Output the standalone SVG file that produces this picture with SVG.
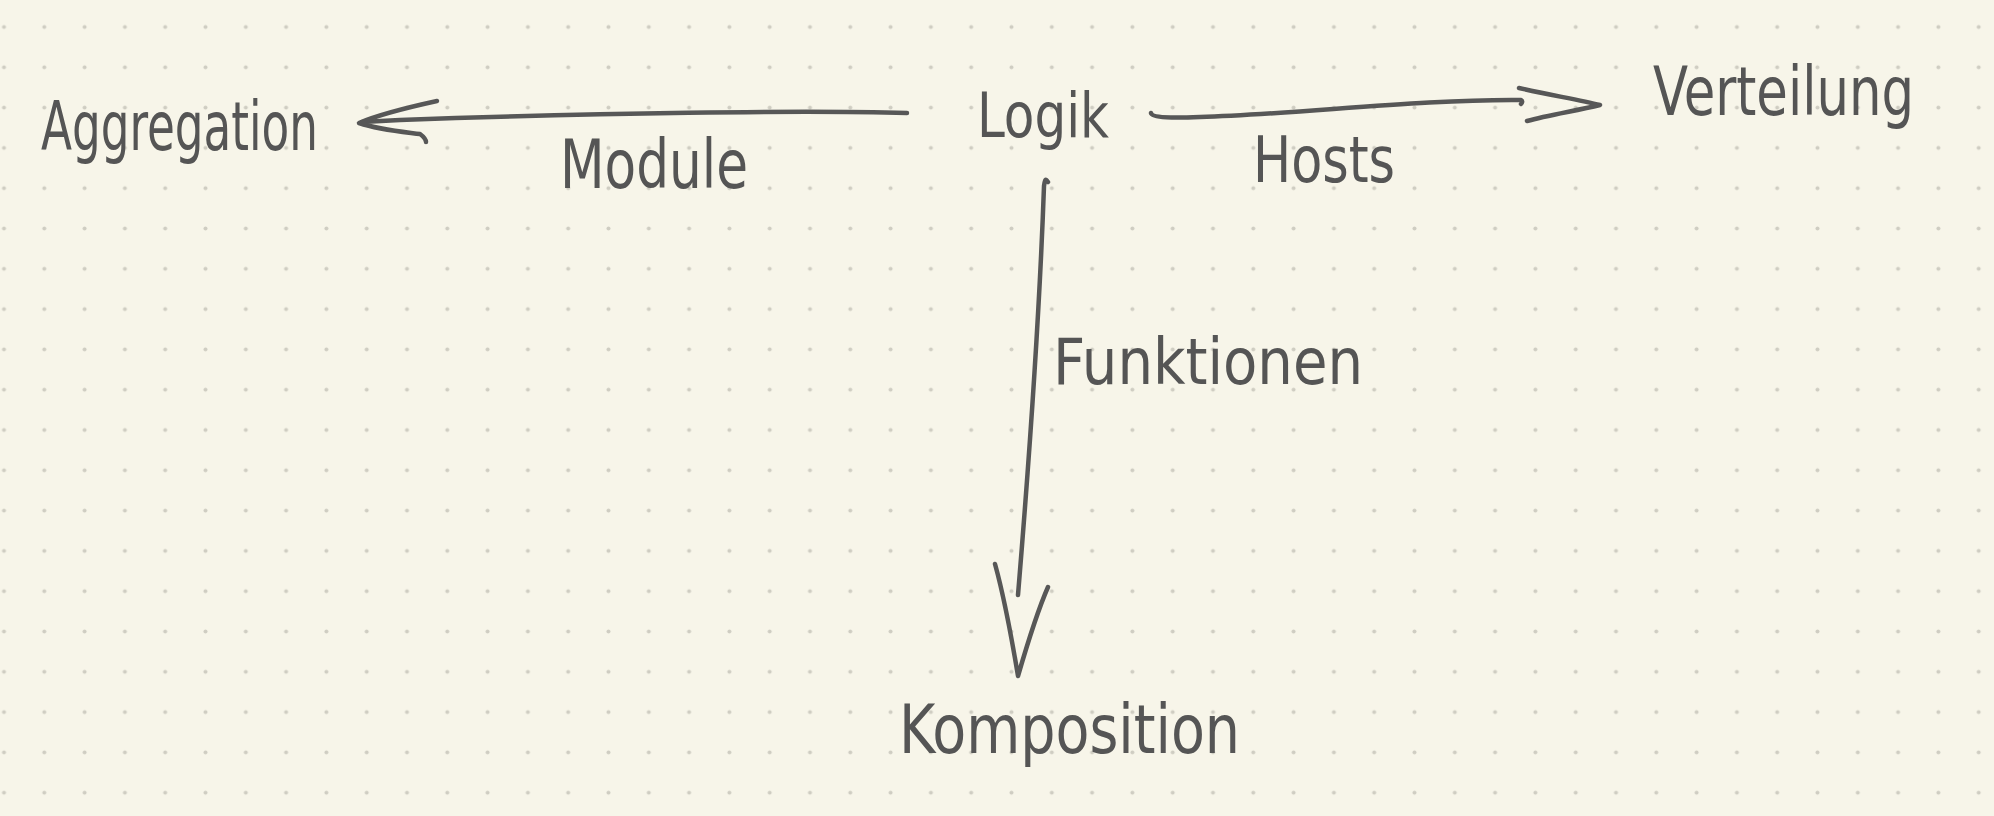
<svg xmlns="http://www.w3.org/2000/svg" width="1994" height="816" viewBox="0 0 1994 816">
  <style>
    .lbl { font-family: "DejaVu Sans Condensed", "Liberation Sans", sans-serif; font-size: 68px; fill: #555555; }
    .ink { fill: none; stroke: #575757; stroke-width: 4.5; stroke-linecap: round; stroke-linejoin: round; }
  </style>
  <defs>
    <pattern id="dots" patternUnits="userSpaceOnUse" x="-16.15" y="6.85" width="40.3" height="40.3">
      <circle cx="20.15" cy="20.15" r="2" fill="#cfcdc2"/>
    </pattern>
  </defs>
  <rect width="1994" height="816" fill="#f7f5e9"/>
  <rect width="1994" height="816" fill="url(#dots)"/>

  <g id="connectors">
    <g id="edge-logik-aggregation">
      <path class="ink" d="M907,113 C800,110 600,113 400,120 L362,122"/>
      <path class="ink" d="M437,101 C405,108 380,114 359,123 C380,130 405,132 420,134 C424,137 426,140 426,142"/>
    </g>
    <g id="edge-logik-verteilung">
      <path class="ink" d="M1151,113 C1152,118 1175,118 1200,117 C1300,114 1420,99 1521,100 C1523,101 1522,103 1521,104"/>
      <path class="ink" d="M1519,88 C1550,95 1580,100 1600,105 C1575,111 1548,115 1527,121"/>
    </g>
    <g id="edge-logik-komposition">
      <path class="ink" d="M1048,182 C1045,178 1045,180 1044,186 C1040,300 1030,450 1018,595"/>
      <path class="ink" d="M995,564 C1005,600 1012,640 1018,676 C1027,645 1037,612 1048,587"/>
    </g>
  </g>

  <g id="node-aggregation"><text class="lbl" x="41" y="150" textLength="277" lengthAdjust="spacingAndGlyphs">Aggregation</text></g>
  <g id="node-logik"><text class="lbl" x="977" y="137" textLength="132" lengthAdjust="spacingAndGlyphs" style="font-size:62px">Logik</text></g>
  <g id="node-verteilung"><text class="lbl" x="1653" y="115" textLength="261" lengthAdjust="spacingAndGlyphs">Verteilung</text></g>
  <g id="node-komposition"><text class="lbl" x="899" y="753" textLength="341" lengthAdjust="spacingAndGlyphs">Komposition</text></g>
  <g id="label-module"><text class="lbl" x="560" y="188" textLength="188" lengthAdjust="spacingAndGlyphs">Module</text></g>
  <g id="label-hosts"><text class="lbl" x="1253" y="182" textLength="142" lengthAdjust="spacingAndGlyphs" style="font-size:64px">Hosts</text></g>
  <g id="label-funktionen"><text class="lbl" x="1053" y="384" textLength="310" lengthAdjust="spacingAndGlyphs" style="font-size:64px">Funktionen</text></g>
</svg>
